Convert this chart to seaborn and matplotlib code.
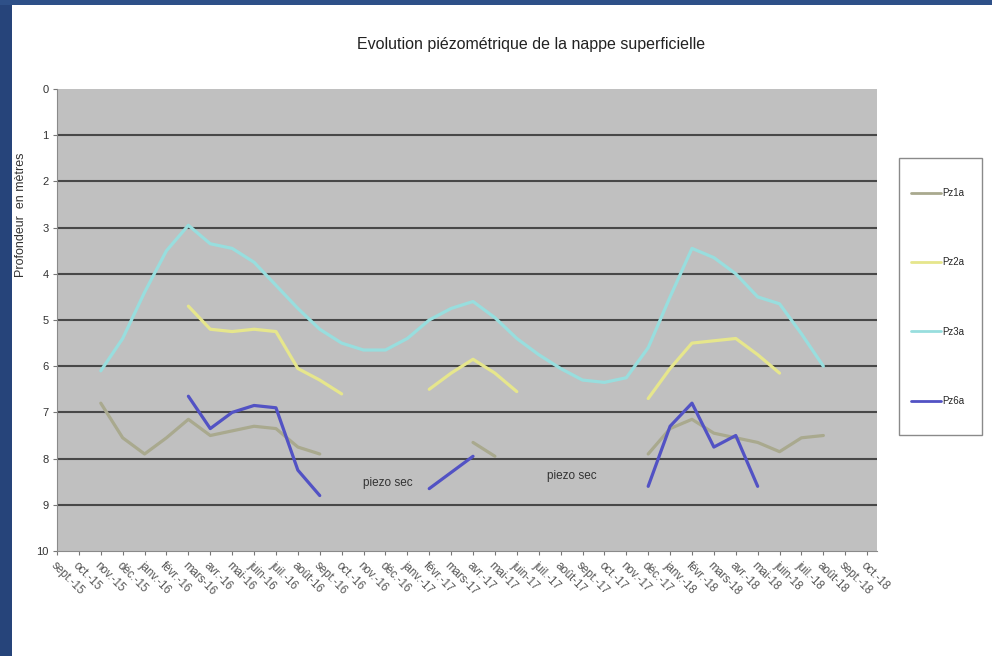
import numpy as np
import pandas as pd
import matplotlib
matplotlib.use('Agg')
import matplotlib.pyplot as plt
import seaborn as sns
from matplotlib.lines import Line2D
from matplotlib.patches import Rectangle

N = np.nan

# Mois (axe des catégories)
mois = ['sept.-15', 'oct.-15', 'nov.-15', 'déc.-15', 'janv.-16', 'févr.-16',
        'mars-16', 'avr.-16', 'mai-16', 'juin-16', 'juil.-16', 'août-16',
        'sept.-16', 'oct.-16', 'nov.-16', 'déc.-16', 'janv.-17', 'févr.-17',
        'mars-17', 'avr.-17', 'mai-17', 'juin-17', 'juil.-17', 'août-17',
        'sept.-17', 'oct.-17', 'nov.-17', 'déc.-17', 'janv.-18', 'févr.-18',
        'mars-18', 'avr.-18', 'mai-18', 'juin-18', 'juil.-18', 'août-18',
        'sept.-18', 'oct.-18']

# Profondeur (m) par piézomètre, NaN = pas de mesure / piezo sec
pz1a = [N, N, 6.8, 7.55, 7.9, 7.55, 7.15, 7.5, 7.4, 7.3, 7.35, 7.75, 7.9,
        N, N, N, N, N, N, 7.65, 7.95, N, N, N, N, N, N,
        7.9, 7.35, 7.15, 7.45, 7.55, 7.65, 7.85, 7.55, 7.5, N, N]
pz2a = [N, N, N, N, N, N, 4.7, 5.2, 5.25, 5.2, 5.25, 6.05, 6.3, 6.6,
        N, N, N, 6.5, 6.15, 5.85, 6.15, 6.55, N, N, N, N, N,
        6.7, 6.05, 5.5, 5.45, 5.4, 5.75, 6.15, N, N, N, N]
pz3a = [N, N, 6.1, 5.4, 4.4, 3.5, 2.95, 3.35, 3.45, 3.75, 4.25, 4.75, 5.2,
        5.5, 5.65, 5.65, 5.4, 5.0, 4.75, 4.6, 4.95, 5.4, 5.75, 6.05, 6.3,
        6.35, 6.25, 5.6, 4.5, 3.45, 3.65, 4.0, 4.5, 4.65, 5.3, 6.0, N, N]
pz6a = [N, N, N, N, N, N, 6.65, 7.35, 7.0, 6.85, 6.9, 8.25, 8.8,
        N, N, N, N, 8.65, 8.3, 7.95, N, N, N, N, N, N, N,
        8.6, 7.3, 6.8, 7.75, 7.5, 8.6, N, N, N, N, N]

series = ['Pz1a', 'Pz2a', 'Pz3a', 'Pz6a']
colors = {'Pz1a': '#a9a98e', 'Pz2a': '#e6e68c', 'Pz3a': '#98dede', 'Pz6a': '#5252c4'}

df = pd.DataFrame({'mois': range(len(mois)), 'Pz1a': pz1a, 'Pz2a': pz2a,
                   'Pz3a': pz3a, 'Pz6a': pz6a})
long = df.melt(id_vars='mois', var_name='piezo', value_name='prof')
# segments separated by gaps, so lines are not joined across missing months
long['seg'] = long.groupby('piezo')['prof'].transform(lambda s: s.isna().cumsum())
long['unit'] = long['piezo'] + '_' + long['seg'].astype(str)
long = long.dropna(subset=['prof'])

sns.set_style('white')
plt.rcParams['font.family'] = ['Liberation Sans', 'DejaVu Sans']

W, H = 992, 656
fig = plt.figure(figsize=(W / 100, H / 100), dpi=100)
fig.patch.set_facecolor('white')
# slide border (dark blue strips left and top)
fig.patches.append(Rectangle((0, 0), 12 / W, 1, transform=fig.transFigure,
                             facecolor='#26447a', edgecolor='none', zorder=-1))
fig.patches.append(Rectangle((0, 1 - 5 / H), 1, 5 / H, transform=fig.transFigure,
                             facecolor='#2e5088', edgecolor='none', zorder=-1))

ax = fig.add_axes([57 / W, 105 / H, 820 / W, 462 / H])
ax.set_facecolor('#c0c0c0')

for v in range(1, 10):
    ax.axhline(v, color='#484848', linewidth=1.5, zorder=1)

sns.lineplot(data=long, x='mois', y='prof', hue='piezo', units='unit',
             estimator=None, palette=colors, hue_order=series,
             linewidth=2.3, legend=False, ax=ax, zorder=3)

ax.set_ylim(10, 0)
ax.set_xlim(0, 37.45)
ax.set_yticks(range(0, 11))
ax.set_yticklabels([str(v) for v in range(0, 11)], fontsize=8, color='#333333')
ax.set_xticks(range(len(mois)))
ax.set_xticklabels(mois, rotation=-45, ha='left', rotation_mode='anchor',
                   fontsize=8.3, color='#555555')
ax.tick_params(axis='both', length=3, width=0.8, color='#777777',
               direction='out', bottom=True, left=True, pad=3)
for side in ['top', 'right']:
    ax.spines[side].set_visible(False)
ax.spines['left'].set_color('#8a8a8a')
ax.spines['bottom'].set_color('#8a8a8a')
ax.set_xlabel('')
ax.set_ylabel('')

ax.text(15.1, 8.53, 'piezo sec', fontsize=8.5, color='#333333', ha='center', va='center')
ax.text(23.5, 8.38, 'piezo sec', fontsize=8.5, color='#333333', ha='center', va='center')

fig.text(531 / W, 1 - 45 / H, 'Evolution piézométrique de la nappe superficielle',
         ha='center', va='center', fontsize=11.5, color='#222222')
fig.text(21 / W, 1 - 215 / H, 'Profondeur  en mètres', rotation=90,
         ha='center', va='center', fontsize=9, color='#333333')

# legend frame drawn separately so the box size matches
fig.patches.append(Rectangle((899 / W, 1 - 435 / H), 83 / W, 277 / H,
                             transform=fig.transFigure, facecolor='white',
                             edgecolor='#8a8a8a', linewidth=1.0, zorder=1))
handles = [Line2D([0], [0], color=colors[s], linewidth=2) for s in series]
leg = fig.legend(handles, series, loc='upper left',
                 bbox_to_anchor=(911 / W, 1 - 188 / H),
                 fontsize=7, frameon=False,
                 handlelength=3.1, handletextpad=0.15, labelspacing=6.1,
                 borderpad=0, borderaxespad=0)
leg.set_zorder(2)

fig.savefig('out.png', dpi=100)
